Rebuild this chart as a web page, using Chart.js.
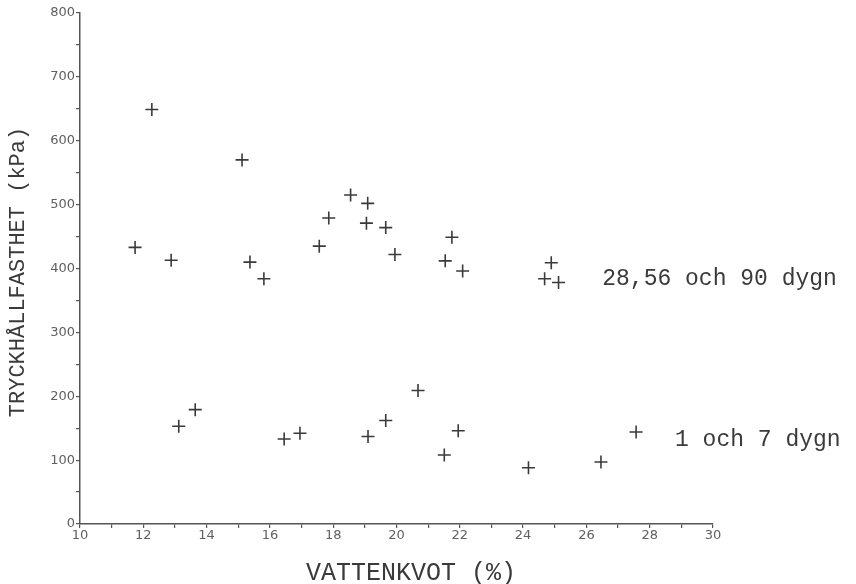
<!DOCTYPE html>
<html>
<head>
<meta charset="utf-8">
<script src="https://cdn.jsdelivr.net/npm/chart.js@4.4.1/dist/chart.umd.min.js"></script>
<style>
  html, body { margin: 0; padding: 0; background: #ffffff; }
  #wrap { width: 856px; height: 584px; }
</style>
</head>
<body>
<div id="wrap"><canvas id="c" width="856" height="584"></canvas></div>
<script>
// Tryckhållfasthet mot vattenkvot, två åldersgrupper
const xLate = [11.74, 12.27, 12.88, 15.12, 15.37, 15.81, 17.56, 17.86, 18.55, 19.09, 19.05, 19.66, 19.95, 21.54, 21.75, 22.09, 24.68, 24.89, 25.12];
const yLate = [433, 649, 413, 570, 410, 384, 435, 479, 515, 502, 471, 464, 422, 412, 449, 396, 384, 409, 378];

const xEarly = [13.12, 13.64, 16.45, 16.95, 19.10, 19.66, 20.68, 21.51, 21.95, 24.17, 26.46, 27.57];
const yEarly = [153, 179, 133, 142, 137, 162, 209, 108, 146, 88, 97, 144];

const xTicks = [10, 12, 14, 16, 18, 20, 22, 24, 26, 28, 30];
const yTicks = [0, 100, 200, 300, 400, 500, 600, 700, 800];

const xTitle = 'VATTENKVOT (%)';
const yTitle = 'TRYCKHÅLLFASTHET (kPa)';

// Group labels placed in data units next to each cluster
const groupLabels = [
  { text: '28,56 och 90 dygn', x: 26.5, y: 383 },
  { text: '1 och 7 dygn', x: 28.8, y: 131 }
];

const toPoints = (xs, ys) => xs.map((x, i) => ({ x: x, y: ys[i] }));

const ink = '#3a3a3a';
const axisInk = '#555555';

const textPlugin = {
  id: 'textPlugin',
  afterDraw(chart) {
    const ctx = chart.ctx;
    const xs = chart.scales.x, ys = chart.scales.y;
    ctx.save();
    ctx.fillStyle = ink;
    ctx.textBaseline = 'middle';
    ctx.textAlign = 'left';
    ctx.font = '23px "Liberation Mono", monospace';
    groupLabels.forEach(l => {
      ctx.fillText(l.text, xs.getPixelForValue(l.x), ys.getPixelForValue(l.y));
    });
    // axis titles
    ctx.textAlign = 'center';
    ctx.font = '25px "Liberation Mono", monospace';
    ctx.fillText(xTitle, 411, 573);
    ctx.translate(18, 272);
    ctx.rotate(-Math.PI / 2);
    ctx.font = '22px "Liberation Mono", monospace';
    ctx.fillText(yTitle, 0, 0);
    ctx.restore();
  }
};

new Chart(document.getElementById('c'), {
  type: 'scatter',
  data: {
    datasets: [
      {
        label: '28,56 och 90 dygn',
        data: toPoints(xLate, yLate),
        pointStyle: 'cross',
        radius: 6.5,
        borderColor: ink,
        borderWidth: 1.6
      },
      {
        label: '1 och 7 dygn',
        data: toPoints(xEarly, yEarly),
        pointStyle: 'cross',
        radius: 6.5,
        borderColor: ink,
        borderWidth: 1.6
      }
    ]
  },
  options: {
    responsive: false,
    animation: false,
    devicePixelRatio: 1,
    layout: { padding: { left: 0, right: 143, top: 13, bottom: 0 } },
    plugins: { legend: { display: false }, tooltip: { enabled: false } },
    scales: {
      x: {
        type: 'linear',
        min: 10, max: 30,
        afterFit(s) { s.height = 60; },
        border: { display: true, color: axisInk, width: 1.5 },
        grid: { drawOnChartArea: false, drawTicks: true, tickLength: 4, color: axisInk, lineWidth: 1.2 },
        afterBuildTicks(s) {
          const t = [];
          for (let v = 10; v <= 30; v++) t.push({ value: v });
          s.ticks = t;
        },
        ticks: {
          autoSkip: false,
          maxRotation: 0,
          padding: 0,
          color: '#606060',
          font: { family: '"DejaVu Sans", sans-serif', size: 13 },
          callback: v => xTicks.includes(v) ? String(v) : ''
        }
      },
      y: {
        type: 'linear',
        min: 0, max: 800,
        afterFit(s) { s.width = 80; },
        border: { display: true, color: axisInk, width: 1.5 },
        grid: { drawOnChartArea: false, drawTicks: true, tickLength: 4, color: axisInk, lineWidth: 1.2 },
        afterBuildTicks(s) {
          const t = [];
          for (let v = 0; v <= 800; v += 50) t.push({ value: v });
          s.ticks = t;
        },
        ticks: {
          autoSkip: false,
          padding: 1,
          color: '#606060',
          font: { family: '"DejaVu Sans", sans-serif', size: 13 },
          callback: v => yTicks.includes(v) ? String(v) : ''
        }
      }
    }
  },
  plugins: [textPlugin]
});
</script>
</body>
</html>
